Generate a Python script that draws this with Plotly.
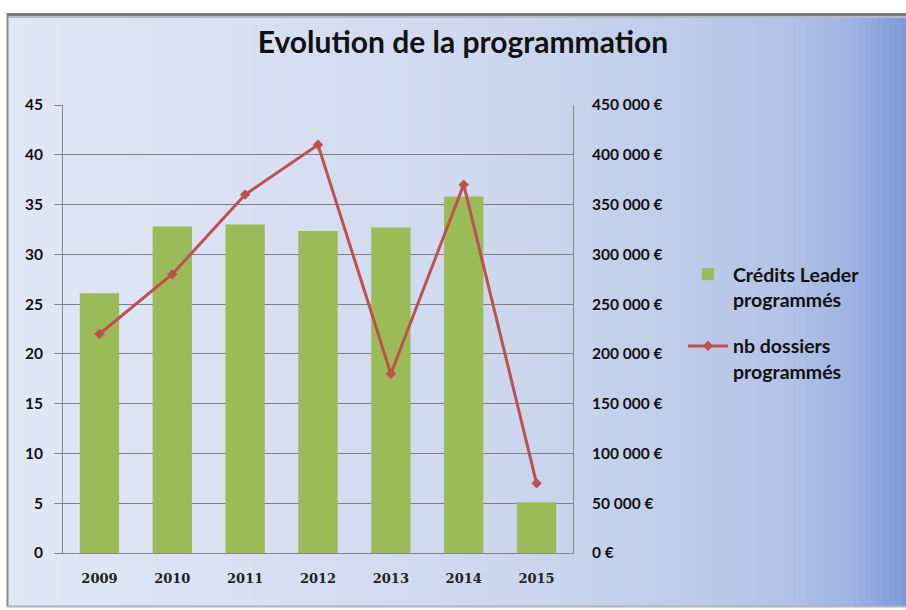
import plotly.graph_objects as go

# ---- data ----
years = ["2009", "2010", "2011", "2012", "2013", "2014", "2015"]
credits_leader = [261000, 328000, 330000, 323500, 327000, 358000, 51000]
nb_dossiers = [22, 28, 36, 41, 18, 37, 7]
left_ticks = [0, 5, 10, 15, 20, 25, 30, 35, 40, 45]
right_tickvals = [0, 50000, 100000, 150000, 200000, 250000, 300000, 350000, 400000, 450000]
right_ticktext = ["0 €", "50 000 €", "100 000 €", "150 000 €", "200 000 €",
                  "250 000 €", "300 000 €", "350 000 €", "400 000 €", "450 000 €"]

W, H = 906, 610
L, R, T, B = 63, 333, 105, 57
PW, PH = W - L - R, H - T - B


def px_x(px):
    return (px - L) / PW


def px_y(py):
    return (H - B - py) / PH


def hex2rgb(h):
    h = h.lstrip("#")
    return tuple(int(h[i:i + 2], 16) for i in (0, 2, 4))


stops = [(7, "#e1e7f5"), (450, "#d0daef"), (650, "#c2cfeb"), (786, "#b3c2e6"),
         (850, "#9fb4e2"), (906, "#7c9ad8")]


def grad(px):
    for (a, ca), (b, cb) in zip(stops[:-1], stops[1:]):
        if a <= px <= b:
            t = (px - a) / (b - a)
            c1, c2 = hex2rgb(ca), hex2rgb(cb)
            return "rgb(%d,%d,%d)" % tuple(round(c1[i] + (c2[i] - c1[i]) * t) for i in range(3))
    return stops[-1][1]


shapes = []
step = 6
x = 7
while x < W:
    x2 = min(x + step, W)
    shapes.append(dict(type="rect", xref="paper", yref="paper", layer="below",
                       x0=px_x(x), x1=px_x(x2 + 0.5), y0=px_y(607), y1=px_y(13),
                       fillcolor=grad((x + x2) / 2), line=dict(width=0)))
    x = x2
# frame borders
shapes.append(dict(type="line", xref="paper", yref="paper", layer="below",
                   x0=px_x(7), x1=px_x(906), y0=px_y(14.5), y1=px_y(14.5),
                   line=dict(color="#7a7a7a", width=3)))
shapes.append(dict(type="line", xref="paper", yref="paper", layer="below",
                   x0=px_x(7), x1=px_x(906), y0=px_y(17), y1=px_y(17),
                   line=dict(color="#b4bac6", width=2)))
shapes.append(dict(type="line", xref="paper", yref="paper", layer="below",
                   x0=px_x(7.5), x1=px_x(7.5), y0=px_y(13), y1=px_y(607),
                   line=dict(color="#8a8a8a", width=2)))
shapes.append(dict(type="line", xref="paper", yref="paper", layer="below",
                   x0=px_x(7), x1=px_x(906), y0=px_y(606.5), y1=px_y(606.5),
                   line=dict(color="#a8b2c4", width=2)))

fig = go.Figure()
fig.add_trace(go.Bar(x=years, y=credits_leader, name="Crédits Leader<br>programmés",
                     legendgroup="credits",
                     marker=dict(color="#9bbb59", line=dict(width=0)), yaxis="y"))
fig.add_trace(go.Scatter(x=years, y=nb_dossiers, name="nb dossiers<br>programmés",
                         legendgroup="dossiers",
                         mode="lines+markers", yaxis="y2",
                         line=dict(color="#c0504d", width=3),
                         marker=dict(symbol="diamond", size=8, color="#c0504d")))

font_sans = "Lato, 'Open Sans', sans-serif"

fig.update_layout(
    width=W, height=H,
    margin=dict(l=L, r=R, t=T, b=B),
    paper_bgcolor="white",
    plot_bgcolor="rgba(0,0,0,0)",
    shapes=shapes,
    bargap=0.46,
    title=dict(text="<b>Evolution de la programmation</b>", x=463 / W, xanchor="center",
               y=1 - 42 / H, yanchor="middle", yref="container",
               font=dict(family=font_sans, size=30, color="#111111")),
    xaxis=dict(showgrid=False, showline=True, linecolor="#868686", linewidth=1,
               ticks="", tickfont=dict(family="'DejaVu Serif', serif", size=13, color="#222222",
                                       weight="bold"),
               ticklabelstandoff=13, mirror=False),
    yaxis=dict(side="right", range=[0, 450000], tickvals=right_tickvals, ticktext=right_ticktext,
               showgrid=True, gridcolor="#808080", gridwidth=1, showline=True,
               linecolor="#868686", linewidth=1, ticks="", zeroline=False,
               tickfont=dict(family=font_sans, size=15.5, color="#111111", weight="bold"),
               ticklabelstandoff=15),
    yaxis2=dict(side="left", overlaying="y", range=[0, 45], tickvals=left_ticks,
                showgrid=False, showline=True, linecolor="#868686", linewidth=1,
                ticks="outside", ticklen=8, tickcolor="#868686", zeroline=False,
                tickfont=dict(family=font_sans, size=15.5, color="#111111", weight="bold"),
                ticklabelstandoff=8),
    legend=dict(x=px_x(683), y=px_y(255), xanchor="left", yanchor="top", valign="top",
                bgcolor="rgba(0,0,0,0)", font=dict(family=font_sans, size=19.5, color="#111111",
                                                   weight="bold"),
                tracegroupgap=18, itemwidth=40),
    showlegend=True,
)

fig.write_html("out.html", post_script="document.body.style.margin='0';",
               config={"displayModeBar": False})
